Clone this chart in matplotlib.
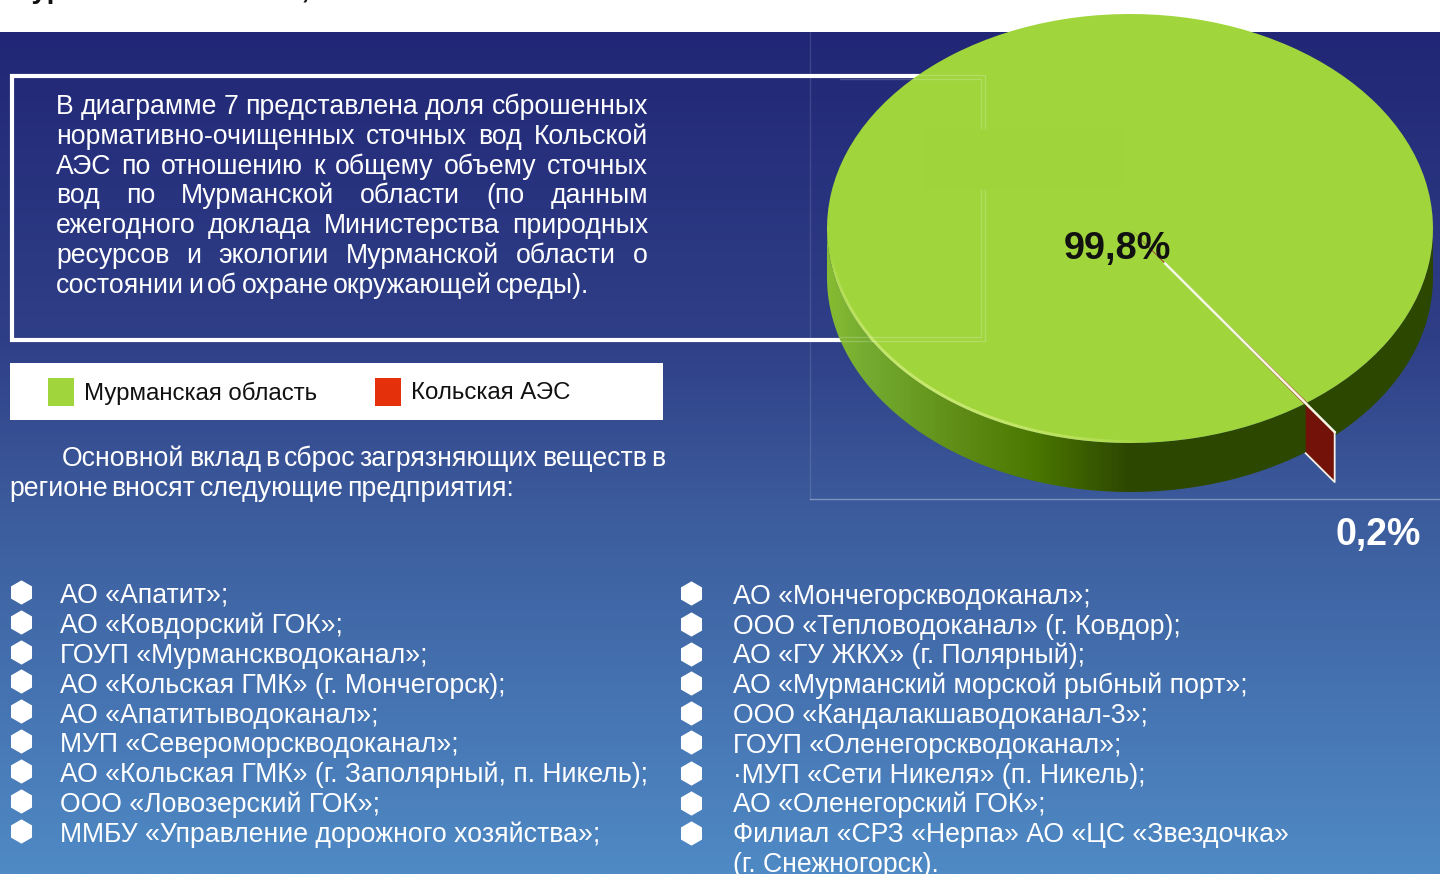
import numpy as np
import matplotlib
matplotlib.use("Agg")
import matplotlib.pyplot as plt
from matplotlib.patches import Rectangle, PathPatch
from matplotlib.path import Path
from matplotlib.collections import LineCollection
from matplotlib.colors import LinearSegmentedColormap

plt.rcParams['font.family'] = ['Liberation Sans', 'DejaVu Sans']

# ---------- data ----------
regions = ["Мурманская область", "Кольская АЭС"]
shares = [99.8, 0.2]
share_labels = ["99,8%", "0,2%"]
title_fragment = "Мурманской области,"
box_lines = [
    "В диаграмме 7 представлена доля сброшенных",
    "нормативно-очищенных сточных вод Кольской",
    "АЭС по отношению к общему объему сточных",
    "вод по Мурманской области (по данным",
    "ежегодного доклада Министерства природных",
    "ресурсов и экологии Мурманской области о",
    "состоянии и об охране окружающей среды).",
]
intro_lines = [
    "Основной вклад в сброс загрязняющих веществ в",
    "регионе вносят следующие предприятия:",
]
left_list = [
    "АО «Апатит»;",
    "АО «Ковдорский ГОК»;",
    "ГОУП «Мурманскводоканал»;",
    "АО «Кольская ГМК» (г. Мончегорск);",
    "АО «Апатитыводоканал»;",
    "МУП «Североморскводоканал»;",
    "АО «Кольская ГМК» (г. Заполярный, п. Никель);",
    "ООО «Ловозерский ГОК»;",
    "ММБУ «Управление дорожного хозяйства»;",
]
right_list = [
    "АО «Мончегорскводоканал»;",
    "ООО «Тепловодоканал» (г. Ковдор);",
    "АО «ГУ ЖКХ» (г. Полярный);",
    "АО «Мурманский морской рыбный порт»;",
    "ООО «Кандалакшаводоканал-3»;",
    "ГОУП «Оленегорскводоканал»;",
    "·МУП «Сети Никеля» (п. Никель);",
    "АО «Оленегорский ГОК»;",
    "Филиал «СРЗ «Нерпа» АО «ЦС «Звездочка»",
    "(г. Снежногорск).",
]

# ---------- layout / style ----------
W, H = 1440, 874
GREEN, RED = "#a0d53c", "#e5300c"
FS = 19.2
cx, cy, rx, ry, depth = 1130, 228.5, 303, 214.5, 49

fig = plt.figure(figsize=(W / 100, H / 100), dpi=100, facecolor="white")
ax = fig.add_axes([0, 0, 1, 1], zorder=0)


def pixel_axes(a):
    a.set_xlim(0, W)
    a.set_ylim(H, 0)
    a.axis("off")


# background gradient
ys = [32, 340, 500, 874]
cols = ["#212776", "#2f3f87", "#3b5a9b", "#4f8ac5"]
cmap = LinearSegmentedColormap.from_list(
    "bg", [((y - 32) / (874 - 32), c) for y, c in zip(ys, cols)])
ax.imshow(np.linspace(0, 1, 400)[:, None], cmap=cmap, aspect="auto",
          extent=(0, W, 874, 32), zorder=0)

# clipped title on the white band
ax.text(8, -2, title_fragment, fontsize=20.2, fontweight="bold", color="#111111",
        va="baseline", ha="left")

# white text frame
ax.add_patch(Rectangle((12, 76), 973, 264, fill=False, ec="white", lw=3, zorder=2))

renderer = fig.canvas.get_renderer()


def fit_line(a, text, x0, x1, y, fs=FS, color="white"):
    """Place the words of a line so that it spans x0..x1."""
    words = text.split(" ")
    items = [a.text(x0, y, w, fontsize=fs, color=color, va="baseline", ha="left", zorder=5)
             for w in words]
    widths = [t.get_window_extent(renderer).width for t in items]
    gap = (x1 - x0 - sum(widths)) / max(len(words) - 1, 1)
    x = x0
    for t, w in zip(items, widths):
        t.set_x(x)
        x += w + gap


box_ends = [648, 648, 648, 648, 648, 648, 589]
box_base = [114, 144, 174, 203, 233, 263, 293]
for s, xe, yb in zip(box_lines, box_ends, box_base):
    fit_line(ax, s, 56, xe, yb)

# legend
ax.add_patch(Rectangle((10, 363), 653, 57, fc="white", ec="none", zorder=2))
ax.add_patch(Rectangle((48, 378), 26, 28, fc=GREEN, ec="none", zorder=3))
ax.add_patch(Rectangle((375, 378), 26, 28, fc=RED, ec="none", zorder=3))
ax.text(84, 400, regions[0], fontsize=17.3, color="#111111", va="baseline", zorder=4)
ax.text(411, 399, regions[1], fontsize=17.3, color="#111111", va="baseline", zorder=4)

# intro
fit_line(ax, intro_lines[0], 62, 665, 466)
fit_line(ax, intro_lines[1], 9, 514, 496)

# lists
left_base = [603, 633, 663, 693, 723, 752, 782, 812, 842]
left_bul = [592, 622, 652, 681, 711, 741, 771, 801, 831]
right_base = [604, 634, 663, 693, 723, 753, 783, 812, 842, 872]
right_bul = [593, 624, 654, 683, 713, 742, 773, 803, 833]
for s, y in zip(left_list, left_base):
    ax.text(60, y, s, fontsize=FS, color="white", va="baseline", zorder=5)
for s, y in zip(right_list, right_base):
    ax.text(733, y, s, fontsize=FS, color="white", va="baseline", zorder=5)
ax.plot([21] * len(left_bul), left_bul, ls="none", marker="h", ms=17.5,
        mfc="white", mec="none", zorder=5)
ax.plot([691] * len(right_bul), right_bul, ls="none", marker="h", ms=17.5,
        mfc="white", mec="none", zorder=5)

# pie side: gradient clipped to the extruded rim
side_x = [827, 867, 967, 1033, 1100, 1130, 1440]
side_c = ["#86bb32", "#74ab30", "#5d8a14", "#4a7800", "#365500", "#2c4700", "#2c4700"]
side_cmap = LinearSegmentedColormap.from_list(
    "side", [((x - 827) / (1440 - 827), c) for x, c in zip(side_x, side_c)])
im = ax.imshow(np.linspace(0, 1, 613)[None, :], cmap=side_cmap, aspect="auto",
               extent=(827, 1440, 500, 200), zorder=6)
t = np.radians(np.linspace(0, 180, 361))
lower = np.c_[cx + rx * np.cos(t), cy + ry * np.sin(t) + depth]
upper = np.c_[cx + rx * np.cos(t[::-1]), cy + ry * np.sin(t[::-1])]
rim = Path(np.vstack([lower, upper, lower[:1]]))
clip = PathPatch(rim, transform=ax.transData, fc="none", ec="none")
ax.add_patch(clip)
im.set_clip_path(clip)
pixel_axes(ax)

# pie top
ax_pie = fig.add_axes([(cx - rx) / W, (H - cy - ry) / H, 2 * rx / W, 2 * ry / H], zorder=1)
start = -54.2
wedges, _ = ax_pie.pie(shares, colors=[GREEN, RED], startangle=start, radius=1,
                       wedgeprops=dict(linewidth=0))
ax_pie.set_aspect("auto")
ax_pie.set_xlim(-1, 1)
ax_pie.set_ylim(-1, 1)
ax_pie.axis("off")
ax_pie.patch.set_alpha(0)
for w in wedges:
    w.set_clip_on(False)

# overlay
ov = fig.add_axes([0, 0, 1, 1], zorder=2)
ov.patch.set_alpha(0)
pixel_axes(ov)

# bright rim highlight on the lower-left edge
th = np.radians(np.linspace(188, 272, 160))
pts = np.c_[cx + (rx - 1.5) * np.cos(th), cy - (ry - 1.5) * np.sin(th)]
segs = np.stack([pts[:-1], pts[1:]], axis=1)
env = np.sin(np.linspace(0, np.pi, len(segs))) ** 0.6
ov.add_collection(LineCollection(segs, colors=[(0.84, 0.94, 0.50, 0.75 * e) for e in env],
                                 linewidths=2.2))

# faint frames
ov.plot([810, 810], [32, 499], color="white", lw=1, alpha=0.12)
ov.plot([810, 1440], [499, 499], color="white", lw=1, alpha=0.35)
faint = dict(color="white", lw=1, alpha=0.2)
ov.plot([840, 985, 985], [75, 75, 128], **faint)
ov.plot([985, 985, 840], [190, 341, 341], **faint)
ov.plot([840, 981, 981], [79, 79, 128], **faint)
ov.plot([981, 981, 840], [190, 337, 337], **faint)
ov.add_patch(Rectangle((925, 127), 197, 63, fc="#9dd338", ec="none", alpha=0.2, zorder=1))

# exploded slice of the smaller share, positioned from the values
mid = np.radians(start + 360 * (shares[0] + shares[1] / 2) / sum(shares))
def on_pie(r, d=0):
    return cx + r * rx * np.cos(mid), cy - r * ry * np.sin(mid) + d
r_out = 1.165
a, b = on_pie(1), on_pie(r_out)
c, e = on_pie(r_out, depth + 1), on_pie(1, depth + 1)
ov.fill([a[0], b[0], c[0], e[0]], [a[1], b[1], c[1], e[1]], fc="#721208", ec="none", zorder=3)
ov.plot([b[0], c[0], e[0]], [b[1], c[1], e[1]], color="#f2f2ea", lw=1.3, zorder=4)
s0 = on_pie(0.2)
ov.plot([s0[0], b[0]], [s0[1], b[1]], color="#f4f7e6", lw=1.8, zorder=4)

# share labels
ov.text(1117, 259, share_labels[0], fontsize=27.3, fontweight="bold", color="#111111",
        ha="center", va="baseline", zorder=5)
ov.text(1378, 545, share_labels[1], fontsize=27, fontweight="bold", color="white",
        ha="center", va="baseline", zorder=5)

fig.savefig("out.png", dpi=100)
